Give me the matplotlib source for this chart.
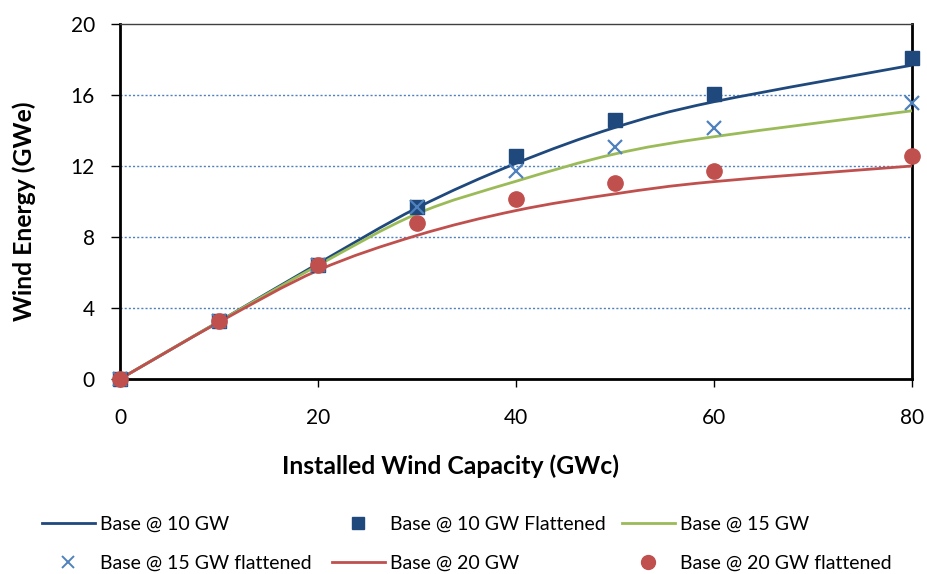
import matplotlib
matplotlib.use("Agg")
import matplotlib.pyplot as plt
from matplotlib.path import Path
from matplotlib.patches import PathPatch
from matplotlib.lines import Line2D

plt.rcParams['font.family'] = ['Lato', 'DejaVu Sans']

# installed capacity (GWc)
capacity = [0, 10, 20, 30, 40, 50, 60, 80]

# modelled curves (GWe)
base10 = [0, 3.24, 6.5, 9.64, 12.15, 14.17, 15.62, 17.68]
base15 = [0, 3.24, 6.4, 9.31, 11.14, 12.68, 13.65, 15.11]
base20 = [0, 3.2, 6.12, 8.09, 9.49, 10.43, 11.12, 12.0]

# flattened results (GWe)
flat10 = [0, 3.24, 6.44, 9.69, 12.58, 14.6, 16.08, 18.1]
flat15 = [0, 3.24, 6.4, 9.7, 11.7, 13.09, 14.14, 15.56]
flat20 = [0, 3.24, 6.4, 8.78, 10.13, 11.05, 11.7, 12.55]

yticks = [0, 4, 8, 12, 16, 20]
xticks = [0, 20, 40, 60, 80]

c_blue = '#1F497D'
c_green = '#9BBB59'
c_red = '#C0504D'
c_x = '#4F81BD'


def smooth_path(xs, ys):
    # smoothed line through every point (cubic bezier, catmull-rom style)
    pts = list(zip(xs, ys))
    n = len(pts)
    verts = [pts[0]]
    codes = [Path.MOVETO]
    for i in range(n - 1):
        p0 = pts[i - 1] if i > 0 else pts[i]
        p1 = pts[i]
        p2 = pts[i + 1]
        p3 = pts[i + 2] if i + 2 < n else pts[i + 1]
        c1 = (p1[0] + (p2[0] - p0[0]) / 6, p1[1] + (p2[1] - p0[1]) / 6)
        c2 = (p2[0] - (p3[0] - p1[0]) / 6, p2[1] - (p3[1] - p1[1]) / 6)
        verts += [c1, c2, p2]
        codes += [Path.CURVE4] * 3
    return Path(verts, codes)


fig = plt.figure(figsize=(9.27, 5.74), dpi=100)
ax = fig.add_axes([120 / 927, 1 - 379 / 574, 792 / 927, 355 / 574])

ax.set_xlim(0, 80)
ax.set_ylim(0, 20)

for yv in yticks[1:-1]:
    ax.axhline(yv, color='#4F81BD', lw=1, ls=(0, (1.5, 1.5)), zorder=1)

for ys, col in [(base10, c_blue), (base15, c_green), (base20, c_red)]:
    ax.add_patch(PathPatch(smooth_path(capacity, ys), facecolor='none',
                           edgecolor=col, lw=2, zorder=3, clip_on=False))

ax.plot(capacity, flat10, ls='none', marker='s', ms=10, color=c_blue,
        zorder=4, clip_on=False)
ax.plot(capacity, flat15, ls='none', marker='x', ms=10, mew=1.6, color=c_x,
        zorder=5, clip_on=False)
ax.plot(capacity, flat20, ls='none', marker='o', ms=11, color=c_red,
        zorder=6, clip_on=False)

ax.set_xticks(xticks)
ax.set_yticks(yticks)
ax.tick_params(axis='both', direction='out', width=1, colors='black',
               labelsize=15)
ax.tick_params(axis='x', length=6, pad=15)
ax.tick_params(axis='y', length=6.5, pad=11.5)

for side in ['left', 'bottom', 'right']:
    ax.spines[side].set_color('black')
    ax.spines[side].set_linewidth(2)
ax.spines['top'].set_color('#404040')
ax.spines['top'].set_linewidth(1)

fig.text(24 / 927, 1 - 211 / 574, 'Wind Energy (GWe)', rotation=90,
         fontsize=17.8, fontweight='bold', ha='center', va='center')
fig.text(450 / 927, 1 - 466 / 574, 'Installed Wind Capacity (GWc)',
         fontsize=17.8, fontweight='bold', ha='center', va='center')

# legend laid out as three columns of two rows
legend_cols = [
    (42, [Line2D([], [], color=c_blue, lw=2),
          Line2D([], [], ls='none', marker='x', ms=9, mew=1.4, color=c_x)],
     ['Base @ 10 GW', 'Base @ 15 GW flattened']),
    (332, [Line2D([], [], ls='none', marker='s', ms=9, color=c_blue),
           Line2D([], [], color=c_red, lw=2)],
     ['Base @ 10 GW Flattened', 'Base @ 20 GW']),
    (622, [Line2D([], [], color=c_green, lw=2),
           Line2D([], [], ls='none', marker='o', ms=10, color=c_red)],
     ['Base @ 15 GW', 'Base @ 20 GW flattened']),
]
for x0, handles, labels in legend_cols:
    fig.legend(handles, labels, loc='upper left',
               bbox_to_anchor=(x0 / 927, 1 - 516 / 574),
               frameon=False, fontsize=14, handlelength=2.7, handletextpad=0.26,
               labelspacing=1.1, borderpad=0, borderaxespad=0)

fig.savefig('out.png', dpi=100)
